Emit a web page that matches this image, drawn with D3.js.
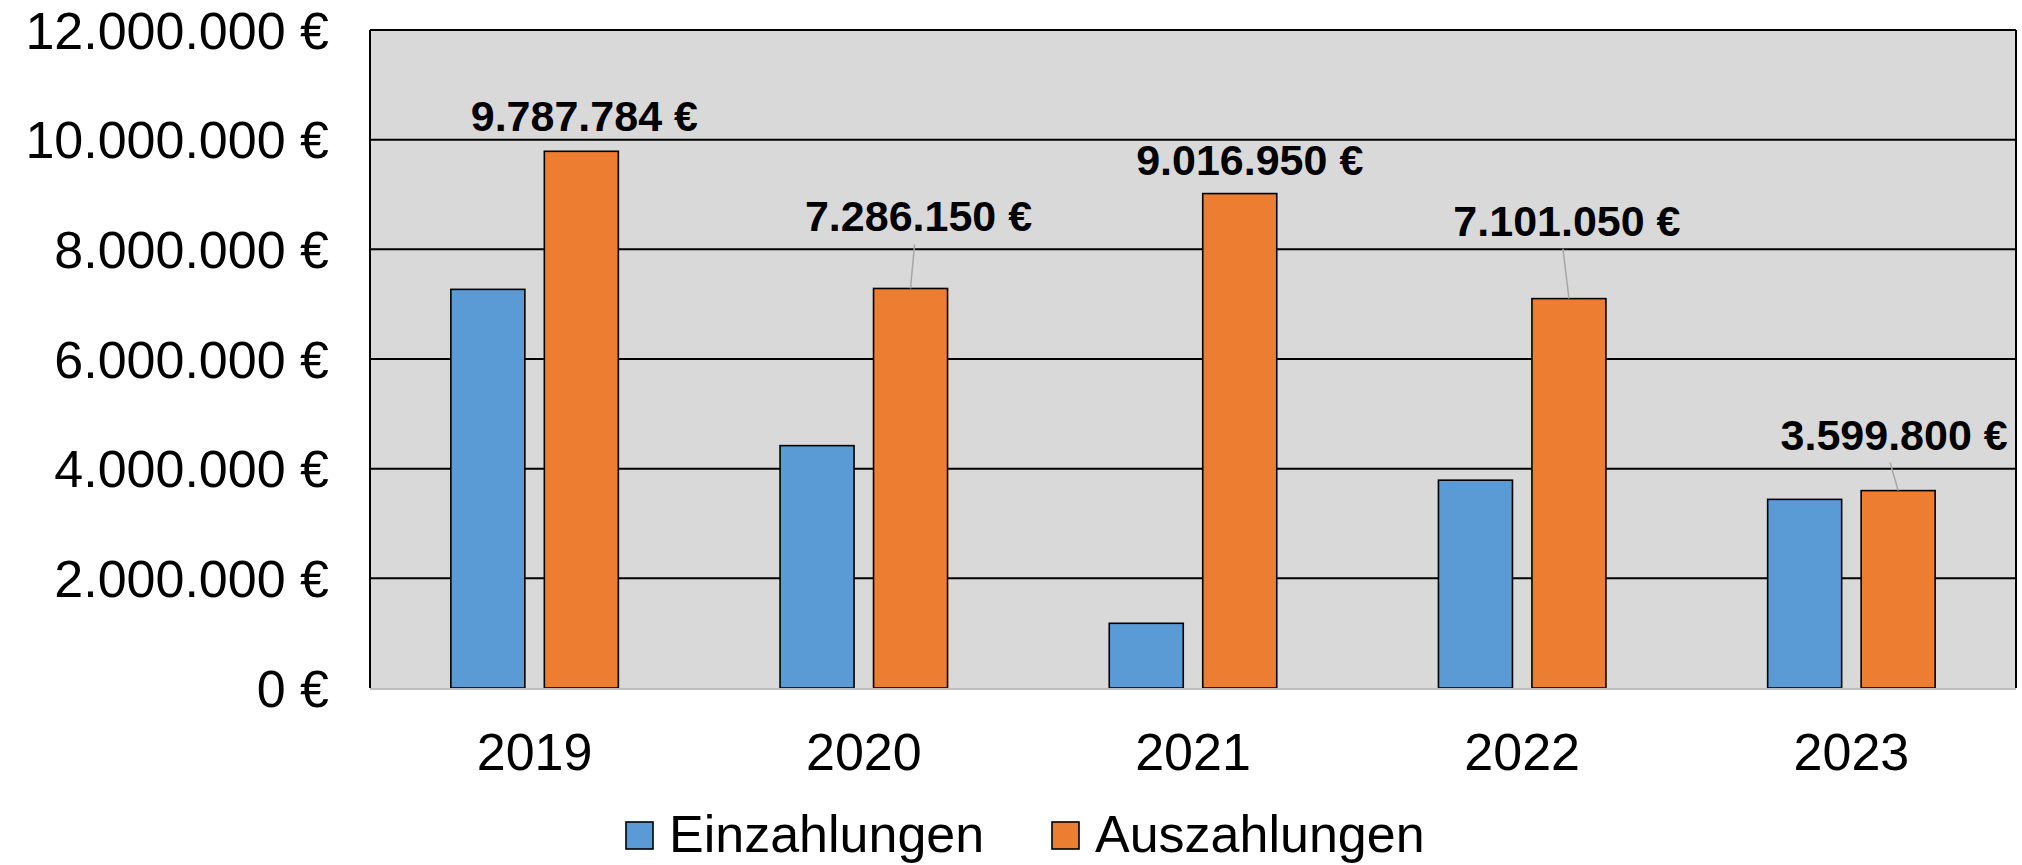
<!DOCTYPE html>
<html>
<head>
<meta charset="utf-8">
<script src="https://cdn.jsdelivr.net/npm/d3@7"></script>
<style>
  html, body { margin: 0; padding: 0; background: #ffffff; }
  svg { display: block; }
  text { font-family: "Liberation Sans", Arial, sans-serif; }
</style>
</head>
<body>
<svg id="chart" width="2022" height="865"></svg>
<script>
// ---- data ----
const years = ["2019", "2020", "2021", "2022", "2023"];
const seriesNames = ["Einzahlungen", "Auszahlungen"];
const einzahlungen = [7270000, 4420000, 1180000, 3790000, 3440000];
const auszahlungen = [9787784, 7286150, 9016950, 7101050, 3599800];
const yTicks = [0, 2000000, 4000000, 6000000, 8000000, 10000000, 12000000];

// ---- layout / style ----
const W = 2022, H = 865;
const margin = { left: 370, right: 6, top: 30, bottom: 177 };
const colors = { Einzahlungen: "#5b9bd5", Auszahlungen: "#ed7d31" };
// manual label nudges (px) relative to default position above each orange bar
const labelNudge = [
  { dx: 3, dy: -20 }, { dx: 8, dy: -57 }, { dx: 10, dy: -19 },
  { dx: -2, dy: -63 }, { dx: -4, dy: -41 }
];

const de = d3.formatLocale({ decimal: ",", thousands: ".", grouping: [3], currency: ["", " €"] });
const fmt = v => de.format(",.0f")(v) + " €";

const svg = d3.select("#chart");
const pw = W - margin.left - margin.right;
const ph = H - margin.top - margin.bottom;
const g = svg.append("g").attr("transform", `translate(${margin.left},${margin.top})`);

const x = d3.scaleBand().domain(years).range([0, pw]).paddingInner(0).paddingOuter(0);
const y = d3.scaleLinear().domain([0, 12000000]).range([ph, 0]);

const bw = x.bandwidth();
const barW = bw * 0.2248;
const gap = bw * 0.0592;
const x1 = d3.scaleOrdinal().domain(seriesNames).range([-gap / 2 - barW, gap / 2]);

// plot background
g.append("rect").attr("x", 0).attr("y", 0).attr("width", pw).attr("height", ph).attr("fill", "#d9d9d9");

// gridlines
g.append("g").selectAll("line").data(yTicks.filter(t => t > 0)).join("line")
  .attr("x1", 0).attr("x2", pw)
  .attr("y1", d => y(d)).attr("y2", d => y(d))
  .attr("stroke", "#000").attr("stroke-width", 2);

// left & right borders
g.append("line").attr("x1", 0).attr("x2", 0).attr("y1", 0).attr("y2", ph).attr("stroke", "#000").attr("stroke-width", 2);
g.append("line").attr("x1", pw).attr("x2", pw).attr("y1", 0).attr("y2", ph).attr("stroke", "#000").attr("stroke-width", 2);

// bars
const rows = years.map((yr, i) => ({ year: yr, i, Einzahlungen: einzahlungen[i], Auszahlungen: auszahlungen[i] }));
const groups = g.append("g").selectAll("g").data(rows).join("g")
  .attr("transform", d => `translate(${x(d.year) + bw / 2},0)`);
groups.selectAll("rect").data(d => seriesNames.map(s => ({ s, v: d[s] }))).join("rect")
  .attr("x", d => x1(d.s))
  .attr("width", barW)
  .attr("y", d => y(d.v))
  .attr("height", d => ph - y(d.v))
  .attr("fill", d => colors[d.s])
  .attr("stroke", "#000").attr("stroke-width", 1.6);

// bottom axis line
g.append("line").attr("x1", 0).attr("x2", pw).attr("y1", ph + 1).attr("y2", ph + 1)
  .attr("stroke", "#bfbfbf").attr("stroke-width", 2);

// y axis
const yAxis = d3.axisLeft(y).tickValues(yTicks).tickSize(0).tickPadding(41).tickFormat(fmt);
const ya = g.append("g").call(yAxis);
ya.select(".domain").remove();
ya.selectAll("text").attr("font-size", 52).attr("fill", "#000")
  .attr("font-family", '"Liberation Sans", Arial, sans-serif').attr("dy", "0.35em");

// x axis
const xAxis = d3.axisBottom(x).tickSize(0).tickPadding(0);
const xa = g.append("g").attr("transform", `translate(0,${ph})`).call(xAxis);
xa.select(".domain").remove();
xa.selectAll("text").attr("font-size", 52).attr("fill", "#000")
  .attr("font-family", '"Liberation Sans", Arial, sans-serif').attr("dy", null).attr("y", 82);

// data labels for Auszahlungen
const orangeCx = d => x(d.year) + bw / 2 + x1("Auszahlungen") + barW / 2;
const labels = g.append("g").selectAll("g").data(rows).join("g");
labels.each(function (d) {
  const n = labelNudge[d.i];
  const cx = orangeCx(d), top = y(d.Auszahlungen);
  const sel = d3.select(this);
  if (-n.dy > 30) {
    sel.append("line")
      .attr("x1", cx + n.dx - 4).attr("y1", top + n.dy + 13)
      .attr("x2", cx).attr("y2", top)
      .attr("stroke", "#a6a6a6").attr("stroke-width", 1.5);
  }
  sel.append("text")
    .attr("x", cx + n.dx).attr("y", top + n.dy)
    .attr("text-anchor", "middle")
    .attr("font-size", 43).attr("font-weight", "bold").attr("fill", "#000")
    .text(fmt(d.Auszahlungen));
});

// legend
const legendItems = [
  { name: seriesNames[0], sx: 626 },
  { name: seriesNames[1], sx: 1052 }
];
const lg = svg.append("g").selectAll("g").data(legendItems).join("g");
lg.append("rect").attr("x", d => d.sx).attr("y", 822).attr("width", 27).attr("height", 27)
  .attr("fill", d => colors[d.name]).attr("stroke", "#000").attr("stroke-width", 1.6);
lg.append("text").attr("x", d => d.sx + 43).attr("y", 852)
  .attr("font-size", 52).attr("fill", "#000").text(d => d.name);
</script>
</body>
</html>
